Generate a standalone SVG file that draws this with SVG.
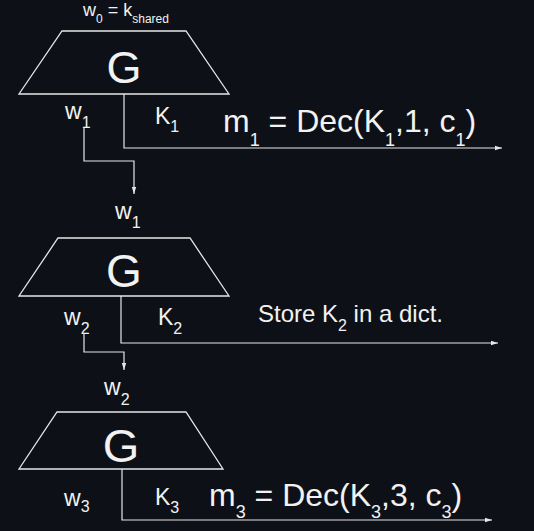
<svg xmlns="http://www.w3.org/2000/svg" width="534" height="531" viewBox="0 0 534 531">
<style>
.bg{fill:#0d1117}
.trap{fill:none;stroke:#e6e6e6;stroke-width:1.3}
.ln{fill:none;stroke:#e6e6e6;stroke-width:1.2}
text{font-family:"Liberation Sans",Arial,sans-serif;fill:#f2f2f2}
.g{text-anchor:middle}
.sb{font-size:16px}
</style>
<defs>
<marker id="ah" markerUnits="userSpaceOnUse" markerWidth="8" markerHeight="6" refX="7" refY="3" orient="auto">
<path d="M0,0.8 L7,3 L0,5.2 Z" fill="#e6e6e6"/>
</marker>
</defs>
<rect class="bg" width="534" height="531"/>
<g id="node1">
<path class="trap" d="M62,31 L186,31 L229,94 L19,94 Z"/>
<text class="g" x="124" y="83" font-size="45">G</text>
</g>
<g id="node2">
<path class="trap" d="M58,238 L190,238 L229,296 L19,296 Z"/>
<text class="g" x="124" y="287" font-size="46">G</text>
</g>
<g id="node3">
<path class="trap" d="M57,412 L186,412 L223,469 L19,469 Z"/>
<text class="g" x="121" y="462" font-size="47">G</text>
</g>
<g id="labels">
<text x="83" y="16" font-size="18">w<tspan font-size="12" dy="7">0</tspan><tspan dy="-7"> = k</tspan><tspan font-size="12" dy="7">shared</tspan></text>
<text x="65" y="119" font-size="23">w<tspan class="sb" dy="9">1</tspan></text>
<text x="155" y="124" font-size="23">K<tspan class="sb" dy="8">1</tspan></text>
<text x="223" y="132" font-size="32">m<tspan font-size="18" dy="14">1</tspan><tspan dy="-14"> = Dec(K</tspan><tspan font-size="18" dy="14">1</tspan><tspan dy="-14">,1, c</tspan><tspan font-size="18" dy="14">1</tspan><tspan dy="-14">)</tspan></text>
<text x="115" y="219" font-size="23">w<tspan class="sb" dy="9">1</tspan></text>
<text x="64" y="325" font-size="23">w<tspan class="sb" dy="9">2</tspan></text>
<text x="158" y="325" font-size="23">K<tspan class="sb" dy="9">2</tspan></text>
<text x="258" y="322" font-size="24">Store K<tspan class="sb" dy="9">2</tspan><tspan dy="-9"> in a dict.</tspan></text>
<text x="104" y="395" font-size="23">w<tspan class="sb" dy="10">2</tspan></text>
<text x="64" y="506" font-size="23">w<tspan class="sb" dy="6">3</tspan></text>
<text x="155" y="505" font-size="23">K<tspan class="sb" dy="8">3</tspan></text>
<text x="209" y="506" font-size="32">m<tspan font-size="18" dy="12">3</tspan><tspan dy="-12"> = Dec(K</tspan><tspan font-size="18" dy="12">3</tspan><tspan dy="-12">,3, c</tspan><tspan font-size="18" dy="12">3</tspan><tspan dy="-12">)</tspan></text>
</g>
<g id="connectors">
<path class="ln" d="M124,94 L124,148 L502,148" marker-end="url(#ah)"/>
<path class="ln" d="M84,128 L84,161 L134,161 L134,194" marker-end="url(#ah)"/>
<path class="ln" d="M121,296 L121,343 L498,343" marker-end="url(#ah)"/>
<path class="ln" d="M84,333 L84,352 L124,352 L124,370" marker-end="url(#ah)"/>
<path class="ln" d="M122,469 L122,520 L492,520" marker-end="url(#ah)"/>
</g>
</svg>
